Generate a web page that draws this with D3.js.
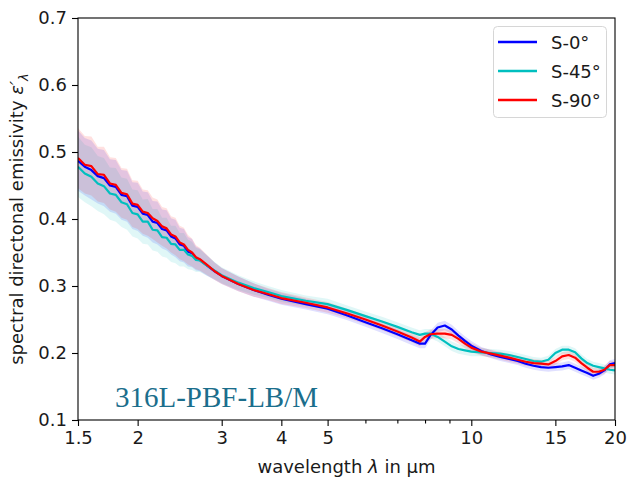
<!DOCTYPE html>
<html><head><meta charset="utf-8">
<script src="https://cdn.jsdelivr.net/npm/d3@7"></script>
<style>body{margin:0;background:#fff}svg{display:block}</style>
</head><body><svg id="c" width="628" height="480" font-family="DejaVu Sans, sans-serif"></svg>
<script>
const wavelengths = [1.50,1.55,1.60,1.65,1.70,1.75,1.80,1.85,1.90,1.95,2.00,2.05,2.10,2.15,2.20,2.25,2.30,2.35,2.40,2.45,2.50,2.55,2.60,2.65,2.70,2.80,2.90,3.00,3.25,3.50,3.75,4.00,4.50,5.00,5.50,6.00,6.50,7.00,7.50,7.80,8.00,8.20,8.50,8.80,9.10,9.40,9.70,10.0,10.5,11.0,11.5,12.0,12.5,13.0,13.5,14.0,14.5,15.0,15.5,16.0,16.5,17.0,17.5,18.0,18.5,19.0,19.5,20.0];
const s0 = [0.487,0.478,0.473,0.464,0.461,0.450,0.448,0.436,0.434,0.420,0.418,0.408,0.406,0.396,0.394,0.385,0.383,0.374,0.371,0.362,0.360,0.351,0.349,0.341,0.339,0.330,0.322,0.315,0.303,0.294,0.287,0.281,0.273,0.266,0.256,0.246,0.237,0.228,0.219,0.214,0.214,0.226,0.238,0.241,0.235,0.226,0.218,0.211,0.203,0.198,0.194,0.191,0.188,0.184,0.181,0.179,0.178,0.179,0.180,0.182,0.178,0.174,0.170,0.166,0.169,0.174,0.183,0.185];
const s45 = [0.478,0.468,0.463,0.453,0.449,0.438,0.436,0.425,0.422,0.409,0.407,0.396,0.396,0.384,0.383,0.373,0.372,0.363,0.362,0.354,0.354,0.347,0.345,0.339,0.338,0.330,0.323,0.316,0.305,0.297,0.291,0.285,0.278,0.273,0.264,0.255,0.247,0.239,0.231,0.227,0.229,0.229,0.224,0.217,0.210,0.206,0.204,0.202,0.201,0.200,0.199,0.197,0.194,0.191,0.188,0.187,0.190,0.200,0.205,0.205,0.201,0.192,0.185,0.181,0.179,0.177,0.175,0.174];
const s90 = [0.491,0.481,0.479,0.467,0.466,0.453,0.451,0.439,0.437,0.423,0.421,0.411,0.409,0.401,0.397,0.389,0.386,0.377,0.374,0.365,0.362,0.354,0.350,0.343,0.340,0.331,0.322,0.315,0.303,0.294,0.288,0.282,0.275,0.268,0.259,0.250,0.241,0.232,0.223,0.217,0.224,0.228,0.229,0.229,0.227,0.221,0.214,0.208,0.202,0.199,0.196,0.193,0.190,0.187,0.185,0.184,0.183,0.188,0.195,0.197,0.193,0.185,0.178,0.172,0.172,0.175,0.182,0.182];
const spread = [0.045,0.043,0.044,0.041,0.042,0.039,0.040,0.037,0.038,0.035,0.036,0.033,0.034,0.031,0.032,0.029,0.030,0.027,0.028,0.025,0.025,0.022,0.021,0.018,0.017,0.015,0.013,0.012,0.011,0.010,0.009,0.009,0.008,0.008,0.007,0.007,0.007,0.007,0.007,0.007,0.007,0.007,0.007,0.007,0.007,0.007,0.007,0.007,0.006,0.006,0.006,0.006,0.006,0.006,0.006,0.006,0.006,0.006,0.006,0.006,0.006,0.006,0.006,0.006,0.006,0.006,0.006,0.006];
const seriesNames = ["S-0°","S-45°","S-90°"];
const seriesColors = ["#0000ff","#00bfbf","#ff0000"];
const xTicks = [1.5,2,3,4,5,10,15,20];
const xMinorTicks = [6,7,8,9];
const yTicks = [0.1,0.2,0.3,0.4,0.5,0.6,0.7];
const annotation = "316L-PBF-LB/M";

const svg = d3.select("#c");
const L=78, R=615, T=18, B=420;
const x = d3.scaleLog().domain([1.5,20]).range([L,R]);
const y = d3.scaleLinear().domain([0.1,0.7]).range([B,T]);
const seriesVals=[s0,s45,s90];

svg.append("clipPath").attr("id","clip").append("rect").attr("x",L).attr("y",T).attr("width",R-L).attr("height",B-T);
const g = svg.append("g").attr("clip-path","url(#clip)");

seriesVals.forEach((vals,k)=>{
  const area=d3.area().x((d,i)=>x(wavelengths[i])).y0((d,i)=>y(vals[i]-spread[i])).y1((d,i)=>y(vals[i]+spread[i]));
  g.append("path").attr("d",area(vals)).attr("fill",seriesColors[k]).attr("fill-opacity",0.12);
});
seriesVals.forEach((vals,k)=>{
  const line=d3.line().x((d,i)=>x(wavelengths[i])).y(d=>y(d));
  g.append("path").attr("d",line(vals)).attr("fill","none").attr("stroke",seriesColors[k]).attr("stroke-width",2.2).attr("stroke-linejoin","round");
});

// axes
const xAxis = d3.axisBottom(x).tickValues(xTicks).tickFormat(d3.format("")).tickSize(6).tickPadding(5);
const xa = svg.append("g").attr("transform",`translate(0,${B})`).call(xAxis);
const xm = svg.append("g").attr("transform",`translate(0,${B})`).call(d3.axisBottom(x).tickValues(xMinorTicks).tickFormat("").tickSize(3.5));
const ya = svg.append("g").attr("transform",`translate(${L},0)`).call(d3.axisLeft(y).tickValues(yTicks).tickFormat(d3.format(".1f")).tickSize(6).tickPadding(5));
[xa,xm,ya].forEach(a=>{a.select(".domain").remove();a.selectAll("line").attr("stroke","#000").attr("stroke-width",1.1);a.selectAll("text").attr("font-size",18).attr("fill","#1a1a1a").attr("font-family","DejaVu Sans, sans-serif");});
svg.append("rect").attr("x",L).attr("y",T).attr("width",R-L).attr("height",B-T).attr("fill","none").attr("stroke","#000").attr("stroke-width",1.1);

// labels
svg.append("text").attr("x",(L+R)/2).attr("y",473).attr("text-anchor","middle").attr("font-size",18).attr("fill","#1a1a1a")
  .html('wavelength <tspan font-style="italic">λ</tspan> in μm');
const yl = svg.append("text").attr("transform",`translate(23,${(T+B)/2}) rotate(-90)`).attr("text-anchor","middle").attr("font-size",18).attr("fill","#1a1a1a");
yl.append("tspan").text("spectral directonal emissivity ");
yl.append("tspan").attr("font-style","italic").text("ε′");
yl.append("tspan").attr("font-style","italic").attr("font-size",13).attr("dy",5).text("λ");

svg.append("text").attr("x",115).attr("y",407).style("font-family","'Liberation Serif', 'Times New Roman', serif").attr("font-size",29).attr("fill","#1b6e8c").text(annotation);

// legend
const lg = svg.append("g");
lg.append("rect").attr("x",493.5).attr("y",26.5).attr("width",113).attr("height",91).attr("rx",4).attr("fill","#fff").attr("fill-opacity",0.8).attr("stroke","#d6d6d6");
seriesNames.forEach((n,k)=>{
  const yy=42+k*29;
  lg.append("line").attr("x1",498).attr("x2",537).attr("y1",yy).attr("y2",yy).attr("stroke",seriesColors[k]).attr("stroke-width",2.4);
  lg.append("text").attr("x",551).attr("y",yy+6.5).attr("font-size",18).attr("fill","#1a1a1a").text(n);
});
</script></body></html>
